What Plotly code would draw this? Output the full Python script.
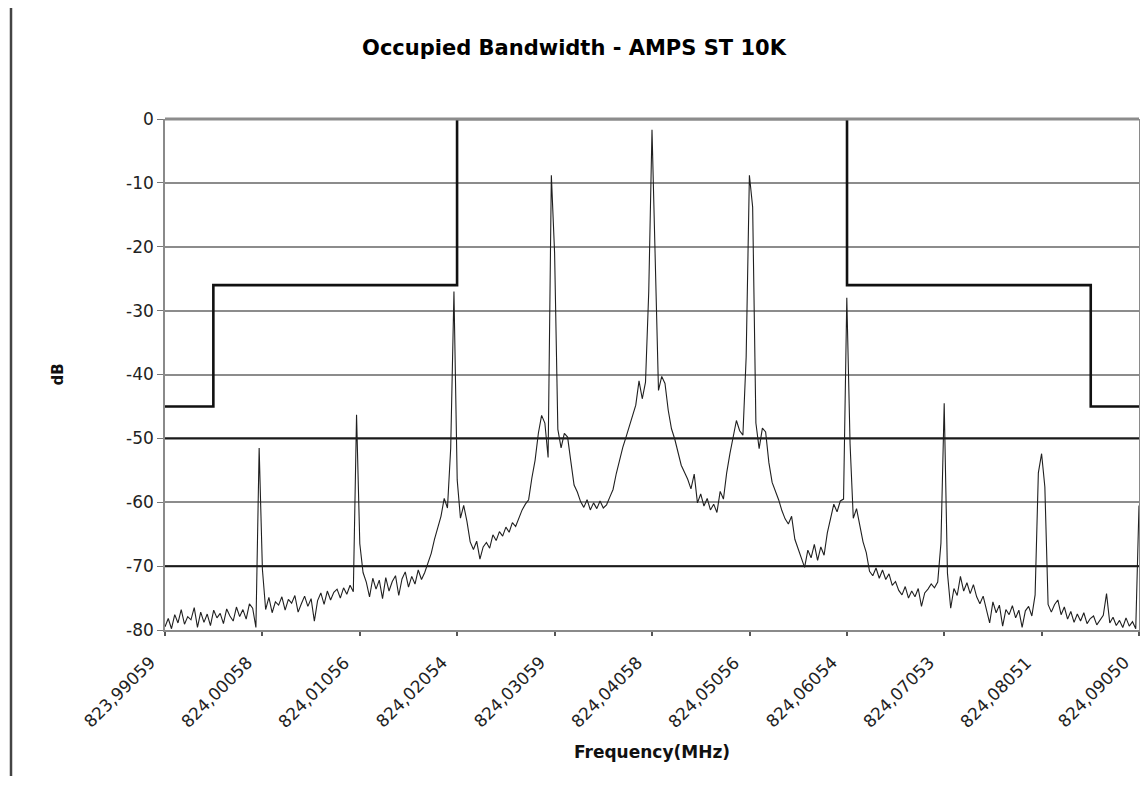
import numpy as np
import plotly.graph_objects as go

TITLE = "Occupied Bandwidth - AMPS ST 10K"
X_TITLE = "Frequency(MHz)"
Y_TITLE = "dB"

SWEEP_START_MHZ = 823.99059
SWEEP_STOP_MHZ = 824.09050
CENTER_MHZ = 824.04055

X_TICK_LABELS = ["823,99059", "824,00058", "824,01056", "824,02054", "824,03059",
                 "824,04058", "824,05056", "824,06054", "824,07053", "824,08051",
                 "824,09050"]
Y_TICKS = [-80, -70, -60, -50, -40, -30, -20, -10, 0]

# measured spectrum (dB), one value per sweep point
SPECTRUM_DB = [
    -79.5, -78.2, -79.8, -77.6, -78.9, -76.8, -79.1, -77.9, -78.4, -76.5,
    -79.6, -77.2, -78.8, -77.5, -79.3, -76.9, -78.1, -77.4, -79.0, -76.7,
    -77.8, -78.6, -76.4, -77.9, -76.8, -78.3, -75.9, -76.6, -79.6, -51.5,
    -70.5, -76.8, -74.9, -77.3, -75.6, -76.1, -74.8, -76.9, -75.2, -75.8,
    -74.6, -77.2, -75.9, -74.7, -76.3, -75.1, -78.6, -75.4, -74.2, -76.0,
    -73.9, -75.3, -74.1, -73.6, -75.0, -73.4, -74.4, -73.0, -74.0, -46.3,
    -66.5, -71.0, -72.5, -74.8, -71.9, -73.6, -72.2, -75.1, -71.8, -73.9,
    -72.4, -71.5, -74.6, -72.0, -70.9, -73.3, -71.6, -72.8, -70.6, -72.1,
    -71.0, -69.5, -68.0, -65.8, -63.9, -62.2, -59.4, -60.9, -51.5, -27.0,
    -56.5, -62.5, -60.5, -63.0, -66.2, -67.4, -66.1, -68.9, -67.0, -66.3,
    -67.2, -65.1, -66.0, -64.6, -65.3, -63.9, -64.7, -63.2, -63.8, -62.5,
    -61.2, -60.3, -59.6, -56.2, -53.4, -49.2, -46.4, -47.6, -53.0, -8.8,
    -21.0, -48.6, -51.5, -49.2, -49.8, -53.6, -57.3, -58.4, -59.9, -60.8,
    -59.6, -61.2, -60.1, -61.0, -59.8, -60.9, -60.4, -59.2, -58.0, -55.5,
    -53.4, -51.4, -49.8, -48.2, -46.3, -44.8, -41.0, -43.8, -41.2, -27.0,
    -1.7, -24.7, -42.5, -40.3, -41.4, -45.6, -48.5, -50.1, -52.4, -54.2,
    -55.3, -56.4, -57.9, -55.6, -60.1, -58.7, -60.6, -59.4, -61.2, -60.3,
    -61.6, -58.3, -59.5, -55.4, -52.4, -49.6, -47.2, -48.8, -49.5, -37.3,
    -8.8, -13.8, -47.6, -51.6, -48.4, -49.0, -53.8, -56.9, -58.2, -59.6,
    -61.3, -62.6, -63.4, -62.2, -65.8, -67.3, -68.9, -70.2, -67.5, -68.7,
    -66.6, -69.1, -67.0, -68.3, -64.8, -62.7, -60.3, -61.5, -59.8, -59.5,
    -28.0, -50.8, -62.5, -61.0, -63.6, -66.2, -67.9, -70.8, -71.5, -70.3,
    -71.9, -70.6, -72.1, -71.2, -73.0, -72.4, -73.8, -74.5, -73.2, -75.0,
    -73.9, -74.8, -73.5, -76.3, -74.2, -73.6, -72.8, -73.4, -72.5, -66.4,
    -44.5, -71.1, -76.6, -73.5, -74.6, -71.6, -73.9, -72.6, -74.3, -72.9,
    -74.8, -75.9, -74.7, -76.8, -78.9, -75.6, -77.3, -76.1, -79.4, -76.8,
    -77.6, -76.2, -78.1, -76.9, -79.6, -77.0, -76.3, -77.8, -74.5, -55.4,
    -52.4, -57.6, -76.0, -77.2, -76.0, -75.3, -77.6, -76.4, -78.3, -77.1,
    -78.8, -77.5, -78.6, -77.3, -79.0, -78.2, -77.8, -79.2, -78.4, -77.7,
    -74.3, -78.9, -78.0, -79.3, -78.5, -79.6, -78.1, -79.4, -78.7, -79.8,
    -60.5,
]

# AMPS emission mask: offsets from centre (kHz) where the level steps, and levels
MASK_EDGES_KHZ = [-45, -20, 20, 45]
MASK_LEVELS_DB = [-45, -26, 0, -26, -45]

LIMIT_LINES_DB = [-50, -70]

FONT = "DejaVu Sans, Liberation Sans, Arial, sans-serif"
GRID_COLOR = "#8c8c8c"

# ---- layout geometry (page has an 8px body margin) ----
PAGE_OFF = 8
FIG_W, FIG_H = 1132, 772
M_L, M_T = 157, 111
PLOT_W, PLOT_H = 974, 511
M_R = FIG_W - M_L - PLOT_W
M_B = FIG_H - M_T - PLOT_H
PLOT_X0 = PAGE_OFF + M_L           # screen x of plot left
PLOT_Y1 = PAGE_OFF + M_T + PLOT_H  # screen y of plot bottom


def px_x(sx):
    return (sx - PLOT_X0) / PLOT_W


def px_y(sy):
    return (PLOT_Y1 - sy) / PLOT_H


# ---- build traces ----
freq = np.linspace(SWEEP_START_MHZ, SWEEP_STOP_MHZ, len(SPECTRUM_DB))

mask_x = [SWEEP_START_MHZ]
mask_y = [MASK_LEVELS_DB[0]]
for i, edge in enumerate(MASK_EDGES_KHZ):
    f = CENTER_MHZ + edge / 1000.0
    mask_x += [f, f]
    mask_y += [MASK_LEVELS_DB[i], MASK_LEVELS_DB[i + 1]]
mask_x.append(SWEEP_STOP_MHZ)
mask_y.append(MASK_LEVELS_DB[-1])

fig = go.Figure()

for lvl in LIMIT_LINES_DB:
    fig.add_trace(go.Scatter(
        x=[SWEEP_START_MHZ, SWEEP_STOP_MHZ], y=[lvl, lvl], mode="lines",
        line=dict(color="#1a1a1a", width=2), hoverinfo="skip", showlegend=False))

fig.add_trace(go.Scatter(
    x=freq, y=SPECTRUM_DB, mode="lines",
    line=dict(color="#202020", width=1.1), showlegend=False))

fig.add_trace(go.Scatter(
    x=mask_x, y=mask_y, mode="lines",
    line=dict(color="#111111", width=2.6), showlegend=False))

tickvals = [float(s.replace(",", ".")) for s in X_TICK_LABELS]

# rotated category-style tick labels
tick_label_annotations = [
    dict(text=lbl, x=tv, xref="x", y=0, yref="paper", textangle=-45,
         xanchor="right", yanchor="top", xshift=-3, yshift=-20, showarrow=False,
         font=dict(family=FONT, size=17, color="#222222"))
    for lbl, tv in zip(X_TICK_LABELS, tickvals)
]

fig.update_layout(
    width=FIG_W, height=FIG_H, autosize=False,
    margin=dict(l=M_L, r=M_R, t=M_T, b=M_B, autoexpand=False),
    paper_bgcolor="white", plot_bgcolor="white",
    font=dict(family=FONT, color="#111111"),
    title=dict(text="<b>" + TITLE + "</b>", x=(574 - PAGE_OFF) / FIG_W, xref="container",
               y=1 - (48 - PAGE_OFF) / FIG_H, yref="container",
               xanchor="center", yanchor="middle",
               font=dict(family=FONT, size=21, color="#000000")),
    xaxis=dict(range=[SWEEP_START_MHZ, SWEEP_STOP_MHZ], tickvals=tickvals,
               showticklabels=False, ticks="outside", ticklen=4,
               tickcolor="#555555", tickwidth=1.5,
               showline=True, linecolor="#8a8a8a", linewidth=1.5,
               showgrid=False, zeroline=False, automargin=False),
    yaxis=dict(range=[-80, 0], tickvals=Y_TICKS, ticktext=[str(v) for v in Y_TICKS],
               ticks="outside", ticklen=6, tickcolor="#777777",
               showline=True, linecolor="#8a8a8a", linewidth=1.5, mirror=True,
               showgrid=True, gridcolor=GRID_COLOR, gridwidth=1.6, zeroline=False,
               automargin=False, tickfont=dict(size=17, color="#222222")),
    annotations=tick_label_annotations + [
        dict(text="<b>" + X_TITLE + "</b>", xref="paper", yref="paper", x=0.5,
             y=px_y(752), xanchor="center", yanchor="middle", showarrow=False,
             font=dict(family=FONT, size=17, color="#111111")),
        dict(text="<b>" + Y_TITLE + "</b>", xref="paper", yref="paper",
             x=px_x(57), y=0.5, xanchor="center", yanchor="middle",
             textangle=-90, showarrow=False,
             font=dict(family=FONT, size=15, color="#111111")),
    ],
    shapes=[
        # top border of the plot area drawn over the traces
        dict(type="line", xref="paper", yref="paper", x0=0, x1=1, y0=1, y1=1,
             layer="above", line=dict(color=GRID_COLOR, width=3)),
        # page border at the left
        dict(type="line", xref="paper", yref="paper", x0=px_x(11), x1=px_x(11),
             y0=px_y(776), y1=px_y(0),
             line=dict(color="#444444", width=2.5)),
    ],
    hovermode=False,
)

fig.write_html("out.html")
